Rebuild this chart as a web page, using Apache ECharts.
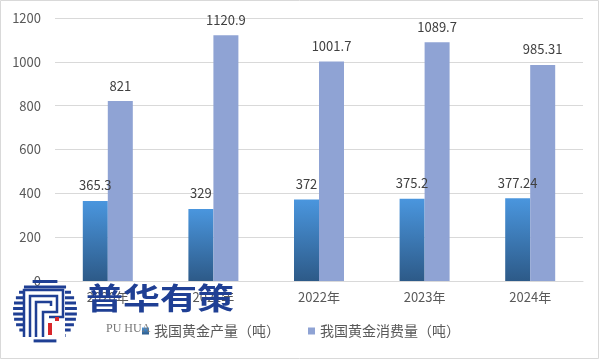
<!DOCTYPE html>
<html><head><meta charset="utf-8">
<script src="https://cdn.jsdelivr.net/npm/echarts@6/dist/echarts.min.js"></script>
<style>html,body{margin:0;padding:0;background:#fff}#c{width:601px;height:361px}</style>
</head><body><div id="c"></div>
<script>
const categories = ['2020年','2021年','2022年','2023年','2024年'];
const production = [365.3, 329, 372, 375.2, 377.24];
const consumption = [821, 1120.9, 1001.7, 1089.7, 985.31];
const seriesNames = ['我国黄金产量（吨）','我国黄金消费量（吨）'];
const yTicks = [0, 200, 400, 600, 800, 1000, 1200];

const FONT = "'Microsoft YaHei','Noto Sans CJK SC',sans-serif";
const chart = echarts.init(document.getElementById('c'), null, {renderer:'canvas'});

// logo (decorative watermark)
const logoEls = [];
const cx = 45, cy = 311, R = 32;
for (let i = 0; i < 12; i++) {
  const y = cy - R + 1 + i * 5.4;
  const dy = y + 1.5 - cy;
  const half = Math.sqrt(Math.max(0, R*R - dy*dy));
  if (half < 3) continue;
  logoEls.push({type:'rect', shape:{x:cx-half, y:y, width:half*2, height:3}, style:{fill:'#1f3f94'}, z:100, silent:true});
}
logoEls.push({type:'rect', shape:{x:cx-22, y:cy-22, width:42, height:48}, style:{fill:'#fff'}, z:101, silent:true});
logoEls.push({type:'polyline', shape:{points:[[cx-21,cy+26],[cx-21,cy-21],[cx+18,cy-21],[cx+18,cy+6],[cx+4,cy+6]]}, style:{stroke:'#1f3f94', lineWidth:2.5, fill:null}, z:102, silent:true});
logoEls.push({type:'polyline', shape:{points:[[cx-15,cy+26],[cx-15,cy-15],[cx+12,cy-15],[cx+12,cy+1],[cx-2,cy+1],[cx-2,cy+26]]}, style:{stroke:'#1f3f94', lineWidth:2.5, fill:null}, z:102, silent:true});
logoEls.push({type:'polyline', shape:{points:[[cx-9,cy+26],[cx-9,cy-9],[cx+6,cy-9],[cx+6,cy-5]]}, style:{stroke:'#1f3f94', lineWidth:2.5, fill:null}, z:102, silent:true});
logoEls.push({type:'rect', shape:{x:cx+3, y:cy+12, width:4, height:12}, style:{fill:'#d9262a'}, z:102, silent:true});
logoEls.push({type:'rect', shape:{x:cx+10, y:cy+6, width:4, height:4}, style:{fill:'#d9262a'}, z:102, silent:true});
logoEls.push({type:'text', x:86, y:283, scaleY:0.8, style:{text:'普华有策', font:"bold 37px 'Noto Sans CJK SC'", fill:'#1f3f94'}, z:103, silent:true});
logoEls.push({type:'text', left:106, top:323, style:{text:'PU HUA', font:"12px 'Liberation Serif'", fill:'#777'}, z:99, silent:true});

chart.setOption({
  animation:false,
  textStyle:{fontFamily:FONT},
  grid:{left:55, right:18, top:18, bottom:80, containLabel:false},
  legend:{
    bottom:18, left:137, itemWidth:7, itemHeight:7, itemGap:28,
    icon:'rect',
    textStyle:{fontSize:14, color:'#595959', fontFamily:FONT},
    data:seriesNames
  },
  xAxis:{
    type:'category', data:categories,
    axisLine:{lineStyle:{color:'#d9d9d9'}},
    axisTick:{show:false},
    axisLabel:{fontSize:13, color:'#595959', margin:10, fontFamily:FONT}
  },
  yAxis:{
    type:'value', min:yTicks[0], max:yTicks[yTicks.length-1], interval:200,
    axisLine:{show:false}, axisTick:{show:false},
    splitLine:{lineStyle:{color:'#d9d9d9'}},
    axisLabel:{fontSize:13, color:'#595959', margin:14, fontFamily:FONT, formatter:v => String(v)}
  },
  series:[
    {
      name:seriesNames[0], type:'bar', data:production, barWidth:25, barGap:'0%',
      itemStyle:{color:new echarts.graphic.LinearGradient(0,0,0,1,[{offset:0,color:'#4a96de'},{offset:1,color:'#2d5a88'}])},
      label:{show:true, position:'top', distance:9, fontSize:13, color:'#404040', fontFamily:FONT}
    },
    {
      name:seriesNames[1], type:'bar', data:consumption, barWidth:25,
      itemStyle:{color:'#8fa3d4'},
      label:{show:true, position:'top', distance:9, fontSize:13, color:'#404040', fontFamily:FONT}
    }
  ],
  graphic:[
    {type:'rect', shape:{x:0.5, y:0.5, width:598, height:358}, style:{fill:null, stroke:'#d9d9d9', lineWidth:1}, z:0, silent:true},
    ...logoEls
  ]
});
</script></body></html>
